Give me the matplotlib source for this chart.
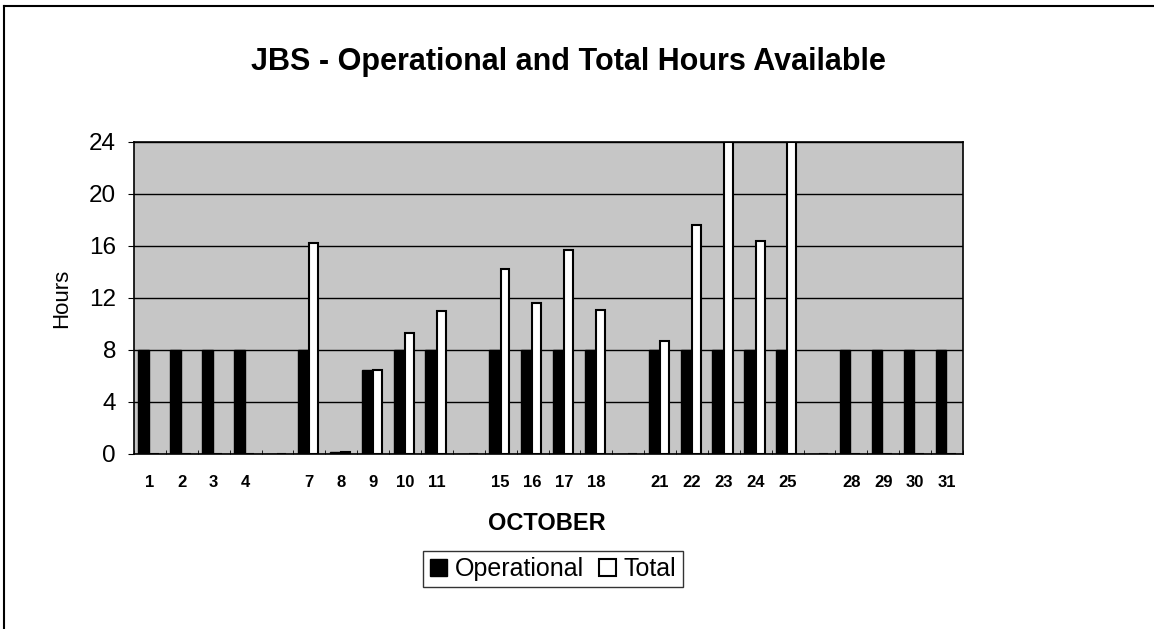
import matplotlib.pyplot as plt
import numpy as np
from matplotlib.lines import Line2D

# days of October (blank slots are the weekend gaps)
days = ['1', '2', '3', '4', '', '7', '8', '9', '10', '11', '', '15', '16', '17', '18',
        '', '21', '22', '23', '24', '25', '', '28', '29', '30', '31']
operational = [8, 8, 8, 8, 0, 8, 0.15, 6.5, 8, 8, 0, 8, 8, 8, 8,
               0, 8, 8, 8, 8, 8, 0, 8, 8, 8, 8]
total = [0, 0, 0, 0, 0, 16.2, 0.15, 6.5, 9.3, 11.0, 0, 14.2, 11.6, 15.7, 11.1,
         0, 8.7, 17.6, 24, 16.4, 24, 0, 0, 0, 0, 0]

W, H = 1154, 629
fig = plt.figure(figsize=(W/100, H/100), dpi=100)
ax = fig.add_axes([134/W, 1 - 454/H, (963-134)/W, (454-142)/H])

x = np.arange(len(days))
w = 0.33
ax.bar(x - w/2 - 0.03, operational, width=w, color='black', edgecolor='black',
       linewidth=1, label='Operational', zorder=3)
ax.bar(x + w/2 - 0.03, total, width=w*0.85, color='white', edgecolor='black',
       linewidth=1.5, label='Total', zorder=3)

ax.set_facecolor('#c6c6c6')
ax.set_xlim(-0.5, len(days) - 0.5)
ax.set_ylim(0, 24)
ax.set_yticks(range(0, 25, 4))
ax.yaxis.grid(True, color='black', linewidth=1)
ax.set_axisbelow(True)
for s in ax.spines.values():
    s.set_color('black')
    s.set_linewidth(1.2)

ax.set_xticks(x)
ax.set_xticklabels(days, fontsize=12, fontweight='bold', family='Liberation Sans')
ax.tick_params(axis='x', length=0, pad=15)
ax.set_xticks(np.arange(len(days) + 1) - 0.5, minor=True)
ax.tick_params(axis='x', which='minor', direction='in', length=3)
ax.tick_params(axis='y', labelsize=17.5, length=4, pad=9)
for t in ax.get_yticklabels():
    t.set_family('Liberation Sans')

fig.text(62/W, 1 - 298/H, 'Hours', rotation=90, ha='center', va='center',
         fontsize=16, family='Liberation Sans')
fig.text(547/W, 1 - 523/H, 'OCTOBER', ha='center', va='center',
         fontsize=17, fontweight='bold', family='Liberation Sans')
fig.text(568/W, 1 - 62/H, 'JBS - Operational and Total Hours Available',
         ha='center', va='center', fontsize=22, fontweight='bold', family='Liberation Sans')

leg = ax.legend(loc='center', bbox_to_anchor=(553/W, 1 - 569/H),
                bbox_transform=fig.transFigure, ncol=2, frameon=True, fancybox=False,
                prop={'family': 'Liberation Sans', 'size': 18},
                handlelength=0.7, handleheight=0.7, handletextpad=0.3,
                columnspacing=0.6, borderpad=0.25, borderaxespad=0)
leg.get_frame().set_edgecolor('black')
leg.get_frame().set_linewidth(1)

# partial page frame (top and left edges)
fig.add_artist(Line2D([4/W, 1], [1 - 6/H, 1 - 6/H], color='black', linewidth=1.5))
fig.add_artist(Line2D([4/W, 4/W], [0, 1 - 6/H], color='black', linewidth=1.5))

plt.savefig('out.png', dpi=100)
